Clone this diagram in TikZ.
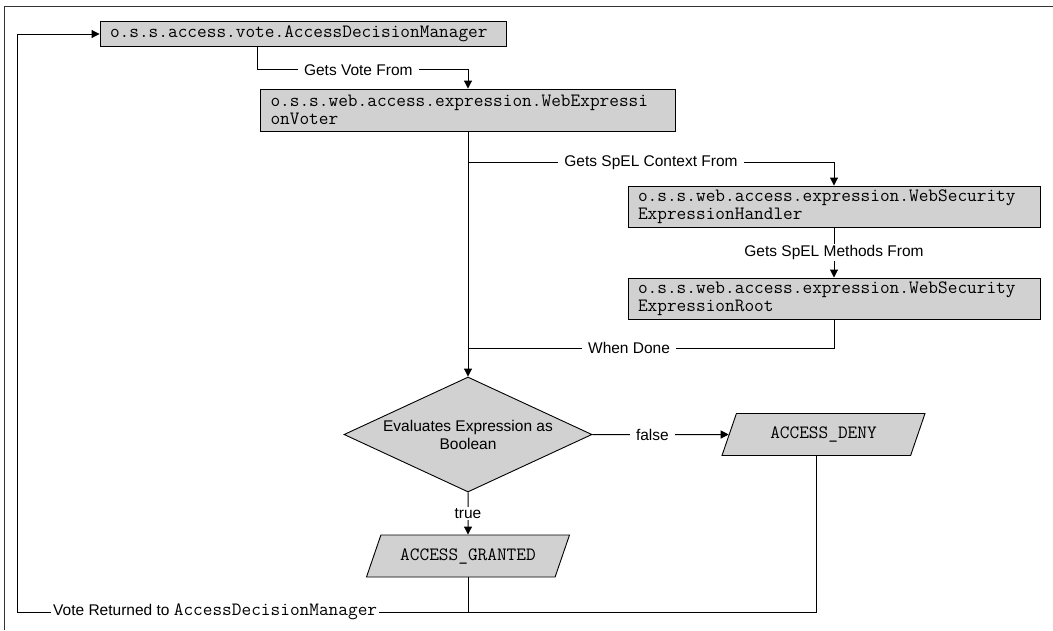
\documentclass[tikz,border=0pt]{standalone}
\usepackage{fontspec}
\setmainfont{Liberation Sans}
\usetikzlibrary{shapes.geometric,arrows.meta}

\newcommand{\codetxt}[1]{{\fontsize{18.8}{18.5}\ttfamily #1}}

\begin{document}
\begin{tikzpicture}[x=1pt,y=-1pt]

\tikzset{%
every node/.style={font=\fontsize{15.5}{18}\selectfont},%
every path/.style={>={Triangle[length=8pt,width=8pt]}, line width=1pt}%
}

\tikzstyle{cls}=[draw, fill=black!18, font=\fontsize{18.8}{18.5}\ttfamily, align=left, inner xsep=10pt, line width=.9pt]
\tikzstyle{result}=[draw, fill=black!18, font=\fontsize{18.8}{18.5}\ttfamily, trapezium, trapezium left angle=57, trapezium right angle=123, trapezium stretches body, minimum width=203pt, minimum height=42pt, line width=.9pt]
\tikzstyle{decide}=[draw, fill=black!18, diamond, aspect=2.15, inner sep=0pt, minimum width=248pt, minimum height=115pt, align=center, line width=.9pt]
\tikzstyle{lbl}=[fill=white, inner xsep=6pt, inner ysep=1pt]

\useasboundingbox (0,0) rectangle (1053,630);
\draw[line width=.9pt, black!80] (4,630) -- (4,6) -- (1053,6);

\node[cls, text width=386pt, minimum height=25pt] (adm) at (303,34) {o.s.s.access.vote.AccessDecisionManager};
\node[cls, text width=395pt, minimum height=42pt] (wev) at (468,110) {o.s.s.web.access.expression.WebExpressi\\onVoter};
\node[cls, text width=392pt, minimum height=41pt] (hdl) at (834,206.5) {o.s.s.web.access.expression.WebSecurity\\ExpressionHandler};
\node[cls, text width=392pt, minimum height=41pt] (root) at (834,298.5) {o.s.s.web.access.expression.WebSecurity\\ExpressionRoot};

\node[decide] (dec) at (468,434.5) {Evaluates Expression as\\Boolean};
\node[result] (deny) at (823.5,434.5) {ACCESS\_DENY};
\node[result] (grant) at (468,556) {ACCESS\_GRANTED};

\coordinate (back) at (17,612);

\draw[->] ([xshift=-46pt]adm.south) -- ++(0,23) -| node[lbl, pos=.24]{Gets Vote From} (wev.north);
\draw[->] (wev) -- (dec);
\draw[->] (wev.south) ++(0,31) -| node[lbl, pos=.25]{Gets SpEL Context From} (hdl.north);
\draw[->] (hdl) -- node[lbl]{Gets SpEL Methods From} (root);
\draw (root.south) |- node[lbl, pos=.78]{When Done} ([yshift=-217pt]wev.south);

\draw[->] (dec) -- node[lbl, pos=.44]{false} (deny);
\draw[->] (dec) -- node[lbl]{true} (grant);

\draw[->] (deny.bottom side) |- node[lbl, pos=.876, inner xsep=2pt]{Vote Returned to \codetxt{AccessDecisionManager}} (back) |- (adm.west);
\draw (grant.bottom side -| grant) -- (grant |- back);

\end{tikzpicture}
\end{document}
